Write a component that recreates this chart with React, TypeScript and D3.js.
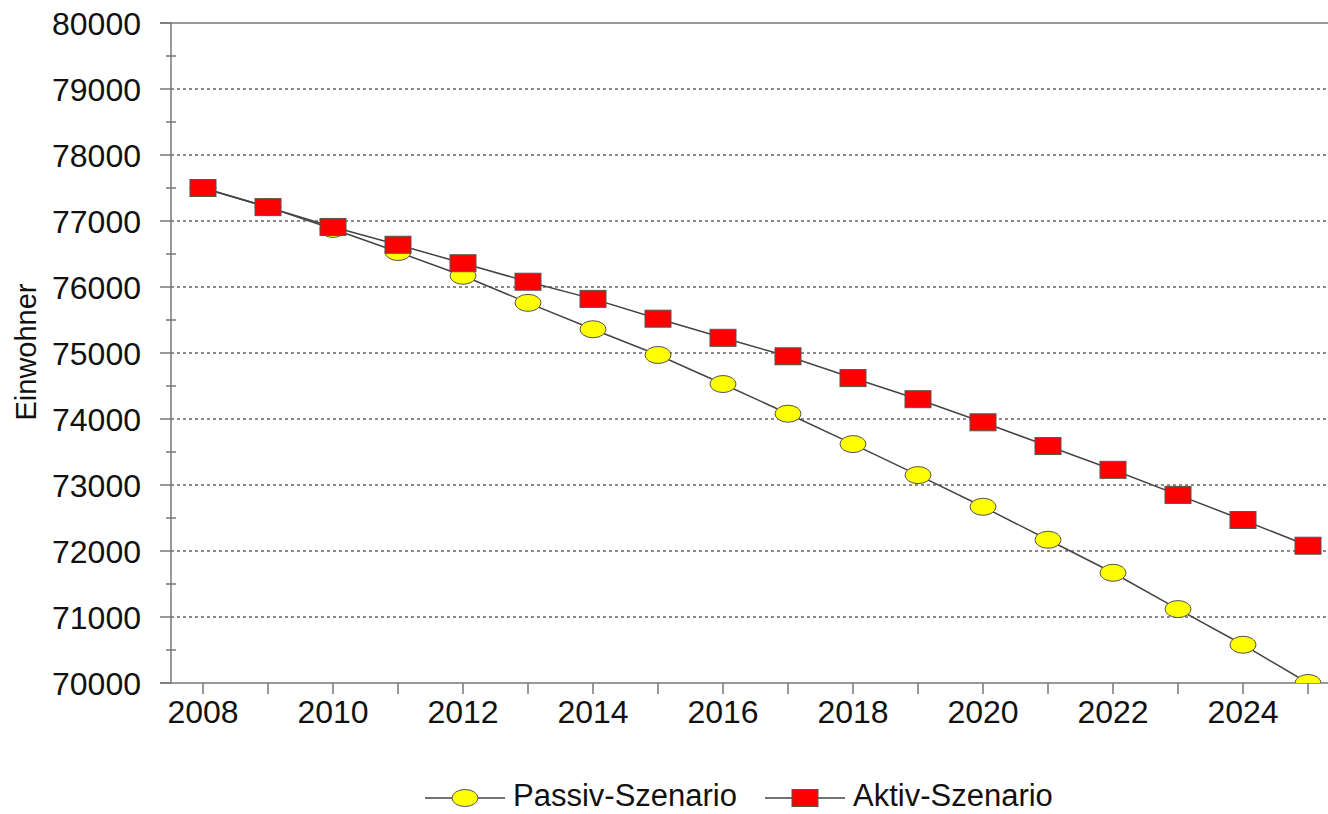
import React, { useEffect, useRef } from 'react';
import * as d3 from 'd3';

const years = d3.range(2008, 2026);
const passiv = [77500, 77210, 76880, 76530, 76170, 75760, 75360, 74970, 74530, 74080, 73620, 73150, 72670, 72170, 71670, 71120, 70580, 70000];
const aktiv = [77500, 77210, 76910, 76640, 76360, 76080, 75820, 75520, 75230, 74950, 74620, 74300, 73950, 73590, 73230, 72850, 72470, 72080];
const yTicks = d3.range(70000, 80001, 1000);
const yMinor = d3.range(70500, 80000, 1000);
const xLabels = d3.range(2008, 2025, 2);

export default function App() {
    const ref = useRef<SVGSVGElement | null>(null);

    useEffect(() => {
        const svg = d3.select(ref.current);
        svg.selectAll('*').remove();
        const width = 1328, height = 814;
        const font = 'Liberation Sans, Arial, sans-serif';
        const left = 171, top = 23, bottom = 683;
        const x = d3.scaleLinear().domain([2008, 2025]).range([203, 1308]);
        const y = d3.scaleLinear().domain([70000, 80000]).range([bottom, top]);

        svg.attr('viewBox', `0 0 ${width} ${height}`);
        svg.append('rect').attr('width', width).attr('height', height).attr('fill', '#fff');

        // grid
        svg.append('g').selectAll('line').data(yTicks.slice(1, -1)).join('line')
            .attr('x1', left).attr('x2', width)
            .attr('y1', d => y(d)).attr('y2', d => y(d))
            .attr('stroke', '#666').attr('stroke-width', 1.3)
            .attr('stroke-dasharray', '3,3');
        // top border
        svg.append('line').attr('x1', 160).attr('x2', width).attr('y1', top).attr('y2', top)
            .attr('stroke', '#777').attr('stroke-width', 1.5);

        // axes
        const ax = svg.append('g').attr('stroke', '#777').attr('stroke-width', 1.5);
        ax.append('line').attr('x1', left).attr('x2', left).attr('y1', top).attr('y2', bottom);
        ax.append('line').attr('x1', 160).attr('x2', width).attr('y1', bottom).attr('y2', bottom);
        ax.selectAll('.maj').data(yTicks).join('line')
            .attr('x1', 160).attr('x2', left).attr('y1', d => y(d)).attr('y2', d => y(d));
        ax.selectAll('.min').data(yMinor).join('line')
            .attr('x1', 166).attr('x2', 176).attr('y1', d => y(d)).attr('y2', d => y(d));
        ax.selectAll('.xt').data(years).join('line')
            .attr('x1', d => x(d)).attr('x2', d => x(d)).attr('y1', bottom).attr('y2', bottom + 11);

        svg.append('g').selectAll('text').data(yTicks).join('text')
            .attr('x', 141).attr('y', d => y(d)).attr('dy', '0.36em')
            .attr('text-anchor', 'end').attr('font-family', font).attr('font-size', 32)
            .attr('fill', '#111').text(d => d);
        svg.append('g').selectAll('text').data(xLabels).join('text')
            .attr('x', d => x(d)).attr('y', 723)
            .attr('text-anchor', 'middle').attr('font-family', font).attr('font-size', 32)
            .attr('fill', '#111').text(d => d);
        svg.append('text').attr('transform', 'translate(36,352) rotate(-90)')
            .attr('text-anchor', 'middle').attr('font-family', font).attr('font-size', 29)
            .attr('fill', '#111').text('Einwohner');

        // clip
        svg.append('clipPath').attr('id', 'plotclip').append('rect')
            .attr('x', left).attr('y', 0).attr('width', width - left).attr('height', bottom);
        const plot = svg.append('g').attr('clip-path', 'url(#plotclip)');

        const line = d3.line<number>().x((_, i) => x(years[i])).y(d => y(d));
        plot.append('path').datum(passiv).attr('d', line).attr('fill', 'none')
            .attr('stroke', '#444').attr('stroke-width', 1.5);
        plot.append('path').datum(aktiv).attr('d', line).attr('fill', 'none')
            .attr('stroke', '#444').attr('stroke-width', 1.5);

        const mw = 26, mh = 17;
        plot.selectAll('ellipse').data(passiv).join('ellipse')
            .attr('cx', (_, i) => x(years[i])).attr('cy', d => y(d))
            .attr('rx', mw / 2).attr('ry', mh / 2)
            .attr('fill', '#ffff00').attr('stroke', '#555').attr('stroke-width', 1);
        plot.selectAll('rect.a').data(aktiv).join('rect')
            .attr('class', 'a')
            .attr('x', (_, i) => x(years[i]) - mw / 2).attr('y', d => y(d) - mh / 2)
            .attr('width', mw).attr('height', mh)
            .attr('fill', '#ff0000').attr('stroke', '#555').attr('stroke-width', 1);

        // legend
        const lg = svg.append('g');
        const ly = 798;
        const items = [
            { label: 'Passiv-Szenario', x0: 425, shape: 'ellipse' },
            { label: 'Aktiv-Szenario', x0: 765, shape: 'rect' },
        ];
        items.forEach(it => {
            lg.append('line').attr('x1', it.x0).attr('x2', it.x0 + 80).attr('y1', ly).attr('y2', ly)
                .attr('stroke', '#444').attr('stroke-width', 1.5);
            const cx = it.x0 + 40;
            if (it.shape === 'ellipse') {
                lg.append('ellipse').attr('cx', cx).attr('cy', ly).attr('rx', mw / 2).attr('ry', mh / 2)
                    .attr('fill', '#ffff00').attr('stroke', '#555');
            } else {
                lg.append('rect').attr('x', cx - mw / 2).attr('y', ly - mh / 2).attr('width', mw).attr('height', mh)
                    .attr('fill', '#ff0000').attr('stroke', '#555');
            }
            lg.append('text').attr('x', it.x0 + 88).attr('y', 806)
                .attr('font-family', font).attr('font-size', 31).attr('fill', '#111').text(it.label);
        });
    }, []);

    return (
        <div style={{ position: 'absolute', left: 0, top: 0 }}>
            <svg ref={ref} width={1328} height={814} style={{ display: 'block' }} />
        </div>
    );
}
